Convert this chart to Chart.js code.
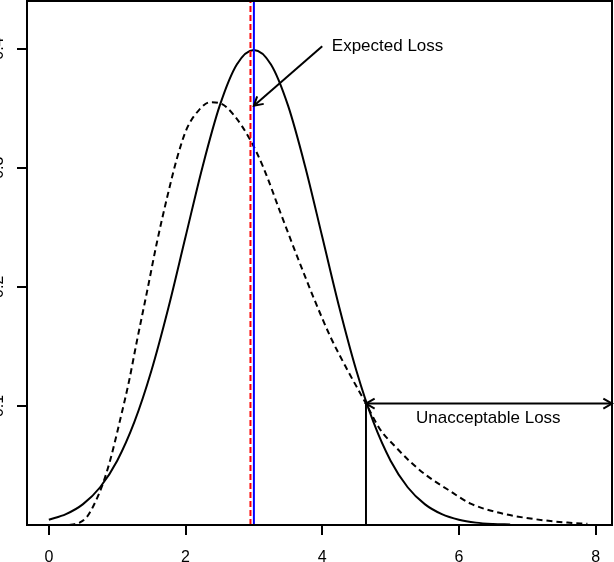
<!DOCTYPE html>
<html>
<head>
<meta charset="utf-8">
<script src="https://cdn.jsdelivr.net/npm/chart.js@4"></script>
<style>
  html, body { margin: 0; padding: 0; background: #fff; }
  #wrap { width: 614px; height: 562px; }
</style>
</head>
<body>
<div id="wrap"><canvas id="lossChart"></canvas></div>
<script>
// Loss distributions

// solid curve (symmetric loss density)
const solidX = [0, 0.25, 0.5, 0.75, 1, 1.25, 1.5, 1.75, 2, 2.25, 2.5, 2.75, 3, 3.25, 3.5,
  3.75, 4, 4.25, 4.5, 4.75, 5, 5.25, 5.5, 5.75, 6, 6.25, 6.5, 6.75];
const solidY = [0.0044, 0.0091, 0.0175, 0.0317, 0.054, 0.0863, 0.1295, 0.1826, 0.242, 0.3011,
  0.3521, 0.3867, 0.3989, 0.3867, 0.3521, 0.3011, 0.242, 0.1826, 0.1295, 0.0863, 0.054,
  0.0317, 0.0175, 0.0091, 0.0044, 0.002, 0.0009, 0.0004];

// dashed curve (skewed loss density)
const dashedX = [0.3, 0.45, 0.56, 0.66, 0.78, 0.9, 1.05, 1.17, 1.29, 1.44, 1.58, 1.73, 1.88,
  2.02, 2.19, 2.36, 2.51, 2.71, 2.95, 3.14, 3.39, 3.63, 3.88, 4.12, 4.37, 4.64, 4.85, 5.05,
  5.29, 5.54, 5.83, 6.17, 6.61, 7.1, 7.59, 7.88];
const dashedY = [0, 0.002, 0.007, 0.017, 0.033, 0.055, 0.09, 0.12, 0.155, 0.197, 0.237, 0.275,
  0.309, 0.333, 0.348, 0.355, 0.354, 0.344, 0.323, 0.3, 0.262, 0.226, 0.19, 0.158, 0.13,
  0.102, 0.08, 0.067, 0.053, 0.041, 0.03, 0.018, 0.01, 0.005, 0.002, 0.001];

// axes
const xRange = [-0.32, 8.24];
const yRange = [0, 0.44];
const xTicks = [0, 2, 4, 6, 8];
const yTicks = [0.1, 0.2, 0.3, 0.4];
const yTickLabels = ["0.1", "0.2", "0.3", "0.4"];

// markers
const redLineX = 2.95;
const blueLineX = 3.0;
const cutoffX = 4.64;
const cutoffY = 0.102;
const expectedArrowFrom = [4.0, 0.402];
const expectedArrowTo = [3.0, 0.352];
const expectedLabel = { text: "Expected Loss", x: 4.14, y: 0.402 };
const unacceptLabel = { text: "Unacceptable Loss", x: 6.43, y: 0.0895 };

const toPoints = (xs, ys) => xs.map((x, i) => ({ x: x, y: ys[i] }));

const lineStyle = {
  showLine: true,
  pointRadius: 0,
  fill: false,
};

function arrowHead(ctx, tipX, tipY, fromX, fromY) {
  const ang = Math.atan2(tipY - fromY, tipX - fromX);
  const len = 10;
  ctx.beginPath();
  ctx.moveTo(tipX - len * Math.cos(ang - Math.PI / 6), tipY - len * Math.sin(ang - Math.PI / 6));
  ctx.lineTo(tipX, tipY);
  ctx.lineTo(tipX - len * Math.cos(ang + Math.PI / 6), tipY - len * Math.sin(ang + Math.PI / 6));
  ctx.stroke();
}

const extrasPlugin = {
  id: "extras",
  afterDatasetsDraw(chart) {
    const ctx = chart.ctx;
    const xs = chart.scales.x;
    const ys = chart.scales.y;
    const area = chart.chartArea;
    ctx.save();
    ctx.strokeStyle = "#000";
    ctx.fillStyle = "#000";
    ctx.lineWidth = 2;

    // box round the plot
    ctx.strokeRect(area.left, area.top, area.right - area.left, area.bottom - area.top);

    // arrow heads
    arrowHead(ctx, xs.getPixelForValue(expectedArrowTo[0]), ys.getPixelForValue(expectedArrowTo[1]),
      xs.getPixelForValue(expectedArrowFrom[0]), ys.getPixelForValue(expectedArrowFrom[1]));
    const ay = ys.getPixelForValue(cutoffY);
    const leftPx = xs.getPixelForValue(cutoffX);
    const rightPx = xs.getPixelForValue(xRange[1]);
    arrowHead(ctx, leftPx, ay, rightPx, ay);
    arrowHead(ctx, rightPx, ay, leftPx, ay);

    // labels
    ctx.font = "17px 'Liberation Sans', Arial, sans-serif";
    ctx.textBaseline = "middle";
    ctx.textAlign = "left";
    ctx.fillText(expectedLabel.text, xs.getPixelForValue(expectedLabel.x), ys.getPixelForValue(expectedLabel.y));
    ctx.textAlign = "center";
    ctx.fillText(unacceptLabel.text, xs.getPixelForValue(unacceptLabel.x), ys.getPixelForValue(unacceptLabel.y));

    // x tick labels
    ctx.font = "16px 'Liberation Sans', Arial, sans-serif";
    ctx.textBaseline = "alphabetic";
    ctx.textAlign = "center";
    xTicks.forEach((t) => {
      ctx.fillText(String(t), xs.getPixelForValue(t), 562);
    });

    // y tick labels, rotated, mostly off the left edge
    yTicks.forEach((t, i) => {
      ctx.save();
      ctx.translate(3, ys.getPixelForValue(t));
      ctx.rotate(-Math.PI / 2);
      ctx.textAlign = "center";
      ctx.textBaseline = "alphabetic";
      ctx.fillText(yTickLabels[i], 0, 0);
      ctx.restore();
    });
    ctx.restore();
  },
};

const ctx = document.getElementById("lossChart").getContext("2d");

new Chart(ctx, {
  type: "scatter",
  data: {
    datasets: [
      {
        ...lineStyle,
        label: "Mean",
        data: toPoints([blueLineX, blueLineX], yRange),
        borderColor: "#0000ff",
        borderWidth: 2,
      },
      {
        ...lineStyle,
        label: "Expected",
        data: toPoints([redLineX, redLineX], yRange),
        borderColor: "#ff0000",
        borderWidth: 2,
        borderDash: [6, 3],
      },
      {
        ...lineStyle,
        label: "Solid",
        data: toPoints(solidX, solidY),
        borderColor: "#000",
        borderWidth: 2,
        cubicInterpolationMode: "monotone",
      },
      {
        ...lineStyle,
        label: "Dashed",
        data: toPoints(dashedX, dashedY),
        borderColor: "#000",
        borderWidth: 2,
        borderDash: [6, 4],
        cubicInterpolationMode: "monotone",
      },
      {
        ...lineStyle,
        label: "Cutoff",
        data: toPoints([cutoffX, cutoffX], [0, cutoffY]),
        borderColor: "#000",
        borderWidth: 2,
      },
      {
        ...lineStyle,
        label: "Unacceptable",
        data: toPoints([cutoffX, xRange[1]], [cutoffY, cutoffY]),
        borderColor: "#000",
        borderWidth: 2,
      },
      {
        ...lineStyle,
        label: "Arrow",
        data: toPoints([expectedArrowFrom[0], expectedArrowTo[0]], [expectedArrowFrom[1], expectedArrowTo[1]]),
        borderColor: "#000",
        borderWidth: 2,
      },
    ],
  },
  options: {
    responsive: true,
    maintainAspectRatio: false,
    animation: false,
    layout: {
      padding: { left: 17, right: 2, top: 1, bottom: 27 },
    },
    plugins: {
      legend: { display: false },
      tooltip: { enabled: false },
      title: { display: false },
    },
    scales: {
      x: {
        type: "linear",
        min: xRange[0],
        max: xRange[1],
        afterBuildTicks: (scale) => {
          scale.ticks = xTicks.map((v) => ({ value: v }));
        },
        ticks: { display: false },
        border: { display: false },
        grid: {
          drawOnChartArea: false,
          drawTicks: true,
          tickLength: 10,
          color: "#000",
          lineWidth: 2,
        },
      },
      y: {
        type: "linear",
        min: yRange[0],
        max: yRange[1],
        afterBuildTicks: (scale) => {
          scale.ticks = yTicks.map((v) => ({ value: v }));
        },
        ticks: { display: false },
        border: { display: false },
        grid: {
          drawOnChartArea: false,
          drawTicks: true,
          tickLength: 10,
          color: "#000",
          lineWidth: 2,
        },
      },
    },
  },
  plugins: [extrasPlugin],
});
</script>
</body>
</html>
